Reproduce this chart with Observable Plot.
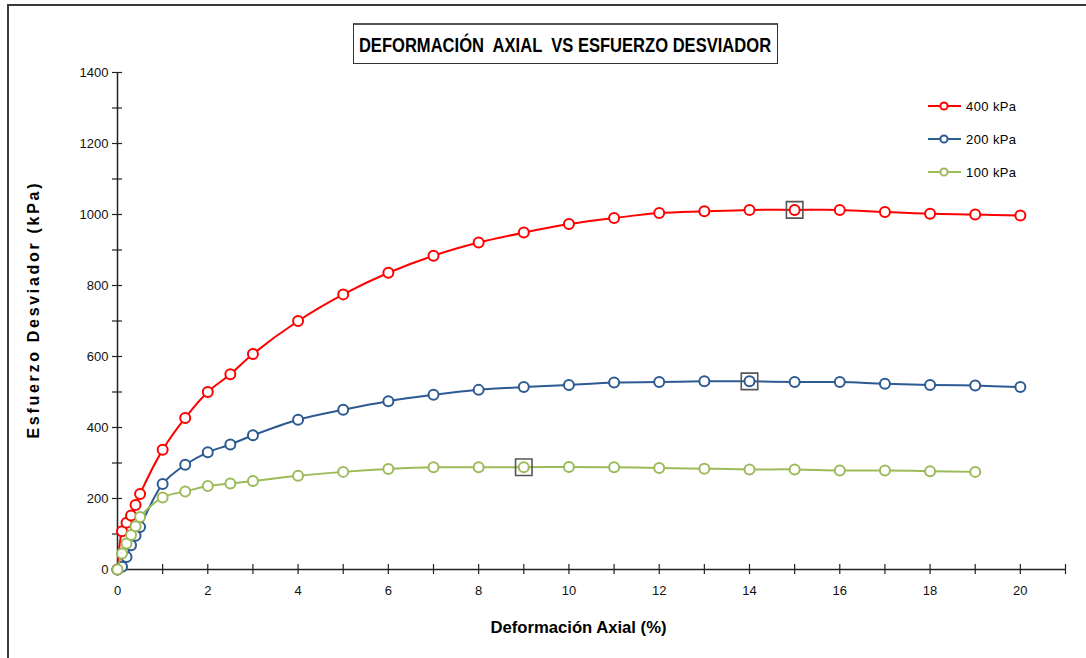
<!DOCTYPE html>
<html>
<head>
<meta charset="utf-8">
<script src="https://cdn.jsdelivr.net/npm/d3@7"></script>
<script src="https://cdn.jsdelivr.net/npm/@observablehq/plot@0.6"></script>
<style>
  body { margin: 0; background: #fff; }
  #wrap { position: relative; width: 1086px; height: 658px; overflow: hidden; font-family: "Liberation Sans", Arial, sans-serif; }
  #frame { position: absolute; left: 7px; top: 4px; width: 1200px; height: 800px; border: 2px solid #3a3a3a; box-sizing: border-box; }
  #chart { position: absolute; left: 0; top: 0; }
  #title { position: absolute; left: 353px; top: 23px; width: 425px; height: 41px; box-sizing: border-box;
           border: 1.5px solid #333; border-top: 2px solid #555; background: #fff; }
  #title svg { display: block; }
  #legend { position: absolute; left: 928px; top: 89.5px; }
  .row { display: flex; align-items: center; height: 33px; }
  .row svg { display: block; }
  .row span { margin-left: 5px; font-size: 13px; letter-spacing: 0.4px; color: #000; }
</style>
</head>
<body>
<div id="wrap">
  <div id="frame"></div>
  <div id="chart"></div>
  <div id="title"></div>
  <div id="legend"></div>
</div>
<script>
// ---- Data ----
const seriesNames = ["400 kPa", "200 kPa", "100 kPa"];
const seriesColors = ["#ff0000", "#2c5a91", "#9bbb59"];

const strain400 = [0, 0.1, 0.2, 0.3, 0.4, 0.5, 1, 1.5, 2, 2.5, 3, 4, 5, 6, 7, 8, 9, 10, 11, 12, 13, 14, 15, 16, 17, 18, 19, 20];
const stress400 = [0, 108, 132, 152, 182, 213, 337, 427, 500, 550, 607, 700, 775, 836, 884, 921, 949, 973, 990, 1004, 1009, 1013, 1013, 1013, 1007, 1002, 1000, 997];

const strain200 = [0, 0.1, 0.2, 0.3, 0.4, 0.5, 1, 1.5, 2, 2.5, 3, 4, 5, 6, 7, 8, 9, 10, 11, 12, 13, 14, 15, 16, 17, 18, 19, 20];
const stress200 = [0, 8, 35, 68, 95, 120, 241, 295, 330, 352, 378, 422, 450, 474, 492, 506, 514, 520, 527, 528, 530, 530, 528, 528, 523, 520, 518, 514];

const strain100 = [0, 0.1, 0.2, 0.3, 0.4, 0.5, 1, 1.5, 2, 2.5, 3, 4, 5, 6, 7, 8, 9, 10, 11, 12, 13, 14, 15, 16, 17, 18, 19];
const stress100 = [0, 45, 73, 97, 122, 148, 203, 220, 235, 242, 249, 264, 275, 283, 288, 288, 288, 289, 288, 286, 284, 282, 282, 279, 279, 277, 275];

// peak (failure) points marked with a square
const peakStrain = [15, 14, 9];

const xTickLabels = [0, 2, 4, 6, 8, 10, 12, 14, 16, 18, 20];
const yTickLabels = [0, 200, 400, 600, 800, 1000, 1200, 1400];

const titleText = "DEFORMACIÓN  AXIAL  VS ESFUERZO DESVIADOR";
const xTitle = "Deformación Axial (%)";
const yTitle = "Esfuerzo Desviador (kPa)";

// ---- Build tables ----
const strains = [strain400, strain200, strain100];
const stresses = [stress400, stress200, stress100];
const series = seriesNames.map((name, i) => ({
  name, color: seriesColors[i],
  data: strains[i].map((x, j) => ({x, y: stresses[i][j]}))
}));
const peaks = series.map((s, i) => s.data.find(d => d.x === peakStrain[i]));

const xMinor = d3.range(0, 22, 1);
const yMinor = d3.range(0, 1401, 100);

const marks = [
  Plot.ruleY([0], {stroke: "#222", strokeWidth: 1.5}),
  Plot.ruleX([0], {stroke: "#222", strokeWidth: 1.5}),
  Plot.axisX({ticks: xMinor, tickSize: 10, dy: -5, tickFormat: () => "", stroke: "#222", strokeWidth: 1.2, label: null}),
  Plot.axisX({ticks: xTickLabels, tickSize: 0, tickPadding: 16, tickFormat: d => String(d), fontSize: 13, fill: "#111", label: null}),
  Plot.axisY({ticks: yMinor, tickSize: 10, dx: 5, tickFormat: () => "", stroke: "#222", strokeWidth: 1.2, label: null}),
  Plot.axisY({ticks: yTickLabels, tickSize: 0, tickPadding: 9, tickFormat: d => String(d), fontSize: 13, fill: "#111", label: null}),
  Plot.text([xTitle], {frameAnchor: "bottom", dy: 63, dx: -13, textAnchor: "middle", fontSize: 16, fontWeight: "bold", fill: "#000"}),
  Plot.text([yTitle], {frameAnchor: "left", rotate: -90, dx: -84, dy: -10, textAnchor: "middle", fontSize: 16, fontWeight: "bold", fill: "#000"})
];
for (const s of series) {
  marks.push(Plot.line(s.data, {x: "x", y: "y", stroke: s.color, strokeWidth: 2, curve: "catmull-rom"}));
  marks.push(Plot.dot(s.data, {x: "x", y: "y", r: 5, fill: "white", stroke: s.color, strokeWidth: 2}));
}
marks.push(Plot.dot(peaks, {x: "x", y: "y", symbol: "square", r: 9.3, fill: "none", stroke: "#555", strokeWidth: 1.6}));

const chart = Plot.plot({
  width: 1086, height: 658,
  marginLeft: 117, marginRight: 21, marginTop: 72, marginBottom: 89,
  x: {domain: [0, 21], axis: null},
  y: {domain: [0, 1400], axis: null},
  style: {fontFamily: '"Liberation Sans", Arial, sans-serif', background: "transparent"},
  marks
});

// fit axis titles to the reference lengths (narrow bold x title, spaced y title)
d3.select(chart).selectAll("text").each(function() {
  const t = this.textContent;
  if (t === xTitle) d3.select(this).attr("textLength", 176).attr("lengthAdjust", "spacingAndGlyphs");
  if (t === yTitle) d3.select(this).attr("textLength", 255).attr("lengthAdjust", "spacing");
});
document.getElementById("chart").appendChild(chart);

// title box: condensed bold caps, drawn with a horizontal squeeze
const tsvg = d3.select("#title").append("svg").attr("width", 422).attr("height", 38);
const tt = tsvg.append("text")
  .attr("transform", "translate(211,20) scale(0.72,1)")
  .attr("text-anchor", "middle").attr("dominant-baseline", "central")
  .attr("font-family", '"Liberation Sans", Arial, sans-serif').attr("font-weight", "bold").attr("font-size", 21)
  .attr("fill", "#000").style("white-space", "pre").attr("xml:space", "preserve").text(titleText);
const natural = tt.node().getComputedTextLength();
if (natural > 0) tt.attr("transform", `translate(211,20) scale(${(412 / natural).toFixed(4)},1)`);

const legend = document.getElementById("legend");
series.forEach(s => {
  const row = document.createElement("div");
  row.className = "row";
  row.innerHTML = `<svg width="33" height="12"><line x1="0" x2="33" y1="6" y2="6" stroke="${s.color}" stroke-width="2"/><circle cx="16" cy="6" r="3.6" fill="white" stroke="${s.color}" stroke-width="2"/></svg><span>${s.name}</span>`;
  legend.appendChild(row);
});
</script>
</body>
</html>
